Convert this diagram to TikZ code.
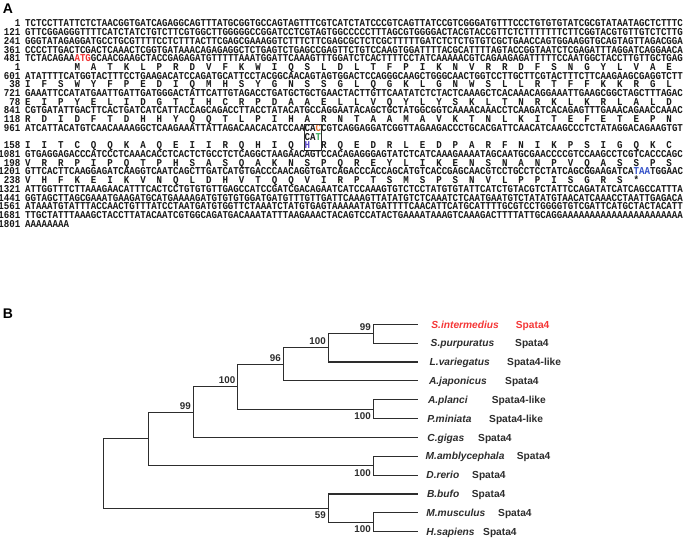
\documentclass[tikz,border=0pt]{standalone}
\usepackage{fontspec}
\setmainfont{Liberation Serif}
\setsansfont{Liberation Sans}
\newfontfamily\seqfont{Liberation Mono}[FakeStretch=0.87]
\definecolor{seqink}{RGB}{25,25,25}
\definecolor{atgred}{RGB}{240,50,50}
\definecolor{taablue}{RGB}{50,80,200}
\definecolor{snporange}{RGB}{230,110,40}
\definecolor{snpgreen}{RGB}{60,170,90}
\definecolor{hblue}{RGB}{90,70,200}
\definecolor{treegray}{RGB}{45,45,45}
\definecolor{spred}{RGB}{245,55,55}
\def\xz{25}
\def\cw{5.481}
\tikzset{
  seqtxt/.style={anchor=base west, inner sep=0pt, text=seqink, font=\seqfont\bfseries\fontsize{10.5}{10.5}\selectfont},
  numtxt/.style={anchor=base east, inner sep=0pt, text=seqink, font=\seqfont\bfseries\fontsize{10.5}{10.5}\selectfont},
  aatxt/.style={anchor=base west, inner sep=0pt, text=seqink, font=\seqfont\bfseries\fontsize{10.5}{10.5}\selectfont},
  paneltxt/.style={inner sep=0pt, font=\sffamily\bfseries\fontsize{14}{14}\selectfont},
  br/.style={line width=1.1pt, draw=treegray, line cap=rect},
  sptxt/.style={anchor=base west, inner sep=0pt, text=treegray, font=\sffamily\bfseries\itshape\fontsize{10.2}{12}\selectfont},
  gntxt/.style={anchor=base west, inner sep=0pt, text=treegray, font=\sffamily\bfseries\fontsize{10.2}{12}\selectfont},
  bstxt/.style={inner sep=0pt, text=treegray, font=\sffamily\bfseries\fontsize{9.8}{11}\selectfont},
  snpbox/.style={draw=treegray, line width=0.6pt}
}
\newcommand\seqrow[4]{%
  \node[numtxt] (n#1) at (20.5,{27+8.7*#2}) {#3};
  \node[seqtxt] (#1) at (\xz,{27+8.7*#2}) {#4};}
\newcommand\protrow[5]{%
  \node[numtxt] (n#1) at (20.5,{27+8.7*#2}) {#3};
  \foreach \c [count=\i from 0] in {#5}{%
    \node[aatxt] (#1x\i) at ({\xz+(#4-1+3*\i)*\cw},{27+8.7*#2}) {\c};}}
\begin{document}
\begin{tikzpicture}[x=1pt,y=-1pt]
\useasboundingbox[fill=white] (0,0) rectangle (687,540);
% ---------------- panel A ----------------
\node[paneltxt] (pA) at (8,8.5) {A};
\seqrow{s1}{0}{1}{TCTCCTTATTCTCTAACGGTGATCAGAGGCAGTTTATGCGGTGCCAGTAGTTTCGTCATCTATCCCGTCAGTTATCCGTCGGGATGTTTCCCTGTGTGTATCGCGTATAATAGCTCTTTC}
\seqrow{s121}{1}{121}{GTTCGGAGGGTTTTCATCTATCTGTCTTCGTGGCTTGGGGGCCGGATCCTCGTAGTGGCCCCCTTTAGCGTGGGGACTACGTACCGTTCTCTTTTTTTCTTCGGTACGTGTTGTCTCTTG}
\seqrow{s241}{2}{241}{GGGTATAGAGGATGCCTGCGTTTTCCTCTTTACTTCGAGCGAAAGGTCTTTCTTCGAGCGCTCTCGCTTTTTGATCTCTCTGTGTCGCTGAACCAGTGGAAGGTGCAGTAGTTAGACGGA}
\seqrow{s361}{3}{361}{CCCCTTGACTCGACTCAAACTCGGTGATAAACAGAGAGGCTCTGAGTCTGAGCCGAGTTCTGTCCAAGTGGATTTTACGCATTTTAGTACCGGTAATCTCGAGATTTAGGATCAGGAACA}
\seqrow{s481}{4}{481}{TCTACAGAA\textcolor{atgred}{ATG}GCAACGAAGCTACCGAGAGATGTTTTTAAATGGATTCAAAGTTTGGATCTCACTTTTCCTATCAAAAACGTCAGAAGAGATTTTTCCAATGGCTACCTTGTTGCTGAG}
\protrow{p1}{5}{1}{10}{M,A,T,K,L,P,R,D,V,F,K,W,I,Q,S,L,D,L,T,F,P,I,K,N,V,R,R,D,F,S,N,G,Y,L,V,A,E}
\seqrow{s601}{6}{601}{ATATTTTCATGGTACTTTCCTGAAGACATCCAGATGCATTCCTACGGCAACAGTAGTGGACTCCAGGGCAAGCTGGGCAACTGGTCCTTGCTTCGTACTTTCTTCAAGAAGCGAGGTCTT}
\protrow{p38}{7}{38}{1}{I,F,S,W,Y,F,P,E,D,I,Q,M,H,S,Y,G,N,S,S,G,L,Q,G,K,L,G,N,W,S,L,L,R,T,F,F,K,K,R,G,L}
\seqrow{s721}{8}{721}{GAAATTCCATATGAATTGATTGATGGGACTATTCATTGTAGACCTGATGCTGCTGAACTACTTGTTCAATATCTCTACTCAAAGCTCACAAACAGGAAATTGAAGCGGCTAGCTTTAGAC}
\protrow{p78}{9}{78}{1}{E,I,P,Y,E,L,I,D,G,T,I,H,C,R,P,D,A,A,E,L,L,V,Q,Y,L,Y,S,K,L,T,N,R,K,L,K,R,L,A,L,D}
\seqrow{s841}{10}{841}{CGTGATATTGACTTCACTGATCATCATTACCAGCAGACCTTACCTATACATGCCAGGAATACAGCTGCTATGGCGGTCAAAACAAACCTCAAGATCACAGAGTTTGAAACAGAACCAAAC}
\protrow{p118}{11}{118}{1}{R,D,I,D,F,T,D,H,H,Y,Q,Q,T,L,P,I,H,A,R,N,T,A,A,M,A,V,K,T,N,L,K,I,T,E,F,E,T,E,P,N}
\seqrow{s961}{12}{961}{ATCATTACATGTCAACAAAAGGCTCAAGAAATTATTAGACAACACATCCAACA\textcolor{snporange}{C}CGTCAGGAGGATCGGTTAGAAGACCCTGCACGATTCAACATCAAGCCCTCTATAGGACAGAAGTGT}
\node[seqtxt] (cat) at ({\xz+51*\cw},{27+8.7*13}) {CA\textcolor{snpgreen}{T}};
\protrow{p158}{14}{158}{1}{I,I,T,C,Q,Q,K,A,Q,E,I,I,R,Q,H,I,Q,\textcolor{hblue}{H},R,Q,E,D,R,L,E,D,P,A,R,F,N,I,K,P,S,I,G,Q,K,C}
\draw[snpbox] ({\xz+51*\cw},124) rectangle ({\xz+54*\cw},150.6);
\seqrow{s1081}{15}{1081}{GTGAGGAGACCCATCCCTCAAACACCTCACTCTGCCTCTCAGGCTAAGAACAGTCCACAGAGGGAGTATCTCATCAAAGAAAATAGCAATGCGAACCCCGTCCAAGCCTCGTCACCCAGC}
\protrow{p198}{16}{198}{1}{V,R,R,P,I,P,Q,T,P,H,S,A,S,Q,A,K,N,S,P,Q,R,E,Y,L,I,K,E,N,S,N,A,N,P,V,Q,A,S,S,P,S}
\seqrow{s1201}{17}{1201}{GTTCACTTCAAGGAGATCAAGGTCAATCAGCTTGATCATGTGACCCAACAGGTGATCAGACCCACCAGCATGTCACCGAGCAACGTCCTGCCTCCTATCAGCGGAAGATCA\textcolor{taablue}{TAA}TGGAAC}
\protrow{p238}{18}{238}{1}{V,H,F,K,E,I,K,V,N,Q,L,D,H,V,T,Q,Q,V,I,R,P,T,S,M,S,P,S,N,V,L,P,P,I,S,G,R,S,*}
\seqrow{s1321}{19}{1321}{ATTGGTTTCTTAAAGAACATTTCACTCCTGTGTGTTGAGCCATCCGATCGACAGAATCATCCAAAGTGTCTCCTATGTGTATTCATCTGTACGTCTATTCCAGATATCATCAGCCATTTA}
\seqrow{s1441}{20}{1441}{GGTAGCTTAGCGAAATGAAGATGCATGAAAAGATGTGTGTGGATGATGTTTGTTGATTCAAAGTTATATGTCTCAAATCTCAATGAATGTCTATATGTAACATCAAACCTAATTGAGACA}
\seqrow{s1561}{21}{1561}{ATAAATGTATTTACCAACTGTTTATCCTAATGATGTGGTTCTAAATCTATGTGAGTAAAAATATGATTTTCAACATTCATGCATTTTGCGTCCTGGGGTGTCGATTCATGCTACTACATT}
\seqrow{s1681}{22}{1681}{TTGCTATTTAAAGCTACCTTATACAATCGTGGCAGATGACAAATATTTAAGAAACTACAGTCCATACTGAAAATAAAGTCAAAGACTTTTATTGCAGGAAAAAAAAAAAAAAAAAAAAAA}
\seqrow{s1801}{23}{1801}{AAAAAAAA}
% ---------------- panel B ----------------
\node[paneltxt] (pB) at (8,313.5) {B};
% leaves
\coordinate (l1) at (417.5,324.3);
\coordinate (l2) at (417.5,343.15);
\coordinate (l3) at (417.5,362);
\coordinate (l4) at (417.5,380.85);
\coordinate (l5) at (417.5,399.7);
\coordinate (l6) at (417.5,418.55);
\coordinate (l7) at (417.5,437.4);
\coordinate (l8) at (417.5,456.25);
\coordinate (l9) at (417.5,475.1);
\coordinate (l10) at (417.5,493.95);
\coordinate (l11) at (417.5,512.8);
\coordinate (l12) at (417.5,531.65);
% internal nodes
\coordinate (n6) at (373.3,333.7);
\coordinate (n5) at (328.3,347.9);
\coordinate (n4) at (283.3,364.4);
\coordinate (nap) at (373.3,409.1);
\coordinate (n3) at (237.7,386.8);
\coordinate (n2) at (193.3,412.1);
\coordinate (nmd) at (373.3,465.7);
\coordinate (n1) at (148.3,438.9);
\coordinate (nmh) at (373.3,522.2);
\coordinate (nm) at (328.3,508.1);
\coordinate (root) at (103.3,473.5);
% branches
\draw[br] (n6) |- (l1);  \draw[br] (n6) |- (l2);
\draw[br] (n5) |- (n6);  \draw[br] (n5) |- (l3);
\draw[br] (n4) |- (n5);  \draw[br] (n4) |- (l4);
\draw[br] (nap) |- (l5); \draw[br] (nap) |- (l6);
\draw[br] (n3) |- (n4);  \draw[br] (n3) |- (nap);
\draw[br] (n2) |- (n3);  \draw[br] (n2) |- (l7);
\draw[br] (nmd) |- (l8); \draw[br] (nmd) |- (l9);
\draw[br] (n1) |- (n2);  \draw[br] (n1) |- (nmd);
\draw[br] (nmh) |- (l11); \draw[br] (nmh) |- (l12);
\draw[br] (nm) |- (l10); \draw[br] (nm) |- (nmh);
\draw[br] (root) |- (n1); \draw[br] (root) |- (nm);
% bootstrap values
\path (n6) ++(-2.3,-2.7) node[bstxt,anchor=south east] (b6) {99};
\path (n5) ++(-2.3,-2.7) node[bstxt,anchor=south east] (b5) {100};
\path (n4) ++(-2.3,-2.7) node[bstxt,anchor=south east] (b4) {96};
\path (n3) ++(-2.3,-2.7) node[bstxt,anchor=south east] (b3) {100};
\path (n2) ++(-2.3,-2.7) node[bstxt,anchor=south east] (b2) {99};
\path (nap) ++(-2.3,3.4) node[bstxt,anchor=north east] (bap) {100};
\path (nmd) ++(-2.3,3.4) node[bstxt,anchor=north east] (bmd) {100};
\path (nm) ++(-2.3,3.4) node[bstxt,anchor=north east] (bm) {59};
\path (nmh) ++(-2.3,3.4) node[bstxt,anchor=north east] (bmh) {100};
% species and gene names
\node[sptxt,text=spred] (t1) at (431.2,{324.3+3.7}) {S.intermedius};
\node[gntxt,text=spred] (g1) at (515.7,{324.3+3.7}) {Spata4};
\node[sptxt] (t2) at (430.5,{343.15+3.7}) {S.purpuratus};
\node[gntxt] (g2) at (515,{343.15+3.7}) {Spata4};
\node[sptxt] (t3) at (429.5,{362+3.7}) {L.variegatus};
\node[gntxt] (g3) at (507,{362+3.7}) {Spata4-like};
\node[sptxt] (t4) at (428.8,{380.85+3.7}) {A.japonicus};
\node[gntxt] (g4) at (505,{380.85+3.7}) {Spata4};
\node[sptxt] (t5) at (427.8,{399.7+3.7}) {A.planci};
\node[gntxt] (g5) at (491.7,{399.7+3.7}) {Spata4-like};
\node[sptxt] (t6) at (427.2,{418.55+3.7}) {P.miniata};
\node[gntxt] (g6) at (489,{418.55+3.7}) {Spata4-like};
\node[sptxt] (t7) at (427.2,{437.4+3.7}) {C.gigas};
\node[gntxt] (g7) at (478,{437.4+3.7}) {Spata4};
\node[sptxt] (t8) at (425.5,{456.25+3.7}) {M.amblycephala};
\node[gntxt] (g8) at (516.7,{456.25+3.7}) {Spata4};
\node[sptxt] (t9) at (426.2,{475.1+3.7}) {D.rerio};
\node[gntxt] (g9) at (472,{475.1+3.7}) {Spata4};
\node[sptxt] (t10) at (426.8,{493.95+3.7}) {B.bufo};
\node[gntxt] (g10) at (471.7,{493.95+3.7}) {Spata4};
\node[sptxt] (t11) at (426.2,{512.8+3.7}) {M.musculus};
\node[gntxt] (g11) at (498,{512.8+3.7}) {Spata4};
\node[sptxt] (t12) at (426.2,{531.65+3.7}) {H.sapiens};
\node[gntxt] (g12) at (483,{531.65+3.7}) {Spata4};
\end{tikzpicture}
\end{document}
